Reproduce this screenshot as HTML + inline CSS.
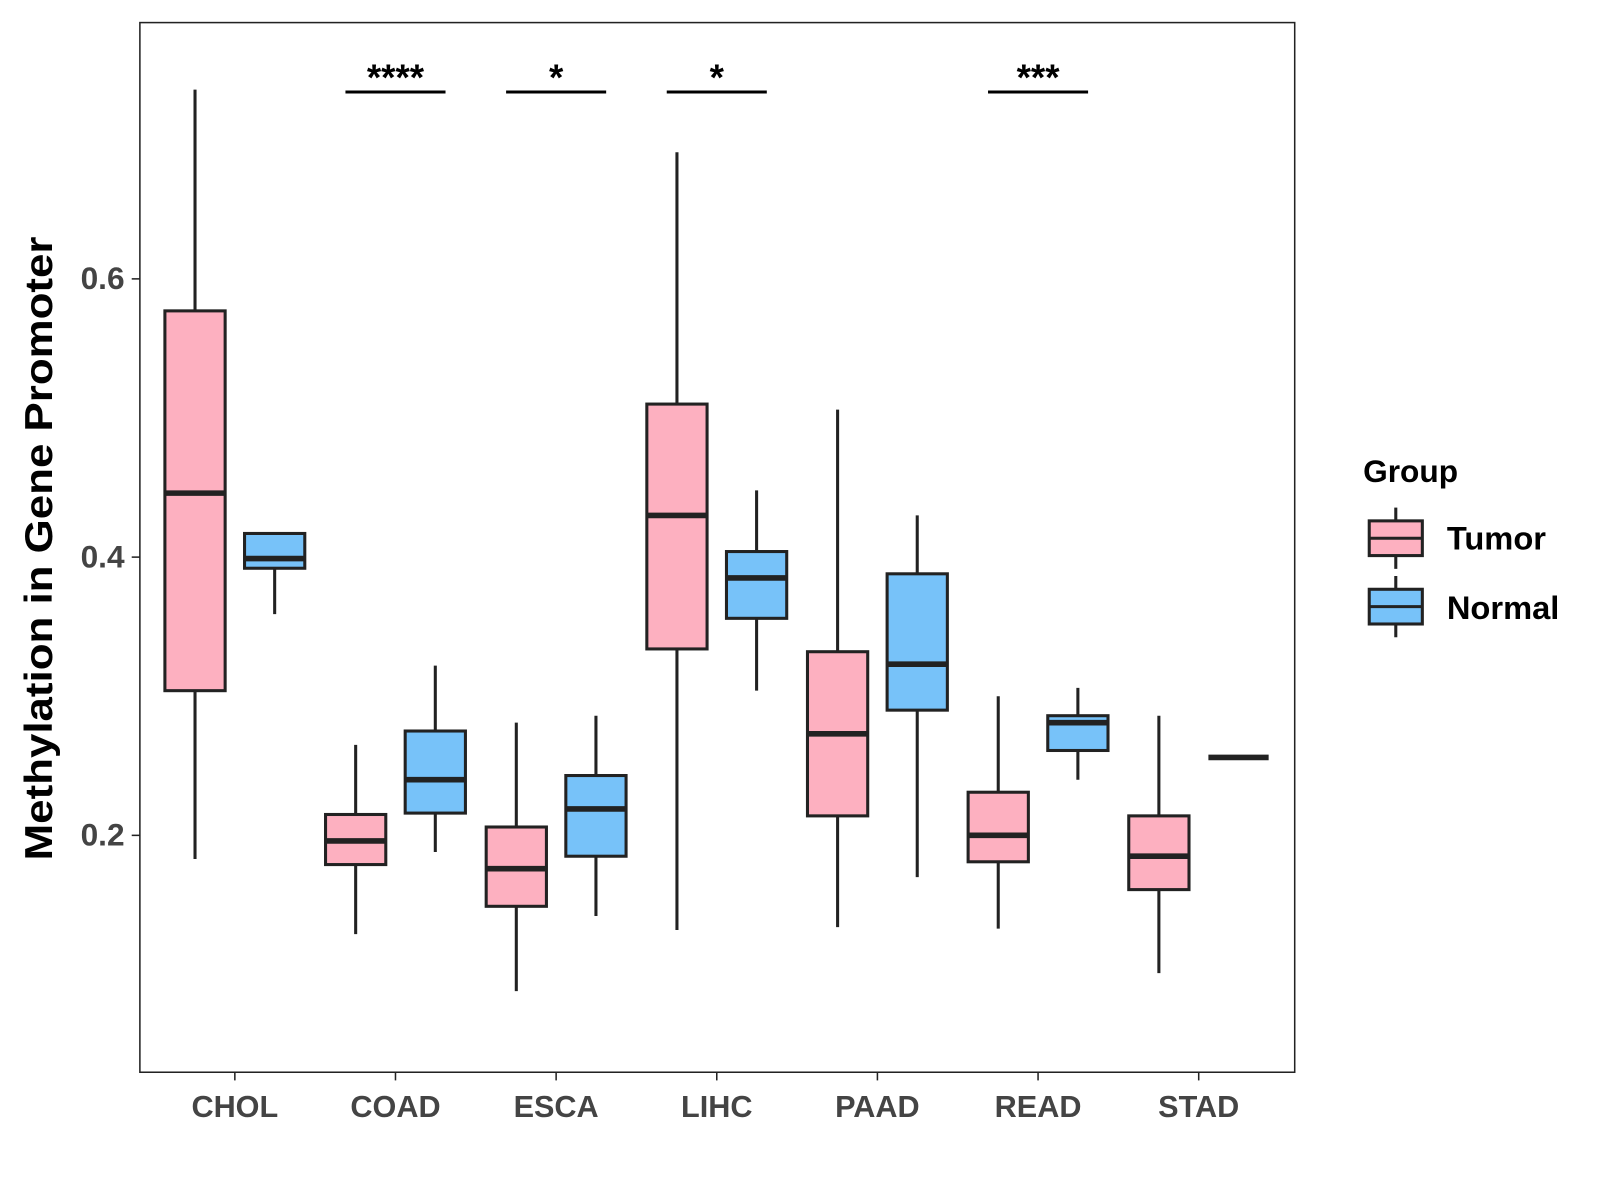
<!DOCTYPE html>
<html><head><meta charset="utf-8">
<style>
html,body{margin:0;padding:0;background:#fff;}
svg{display:block;font-family:"Liberation Sans",Arial,sans-serif;}
</style></head>
<body>
<svg id="chart" width="1600" height="1200" viewBox="0 0 1567 1175">
  <rect x="137" y="22" width="1131" height="1028" fill="#fff" stroke="#222" stroke-width="1.5"/>
  <g id="marks"></g>
  <g id="axes"></g>
  <text transform="translate(51,537) rotate(-90)" text-anchor="middle" font-size="38" font-weight="bold" fill="#000" textLength="611" lengthAdjust="spacingAndGlyphs">Methylation in Gene Promoter</text>
  <g>
    <text x="1335" y="472" font-size="31" font-weight="bold" fill="#000">Group</text>
    <g>
      <line x1="1367" y1="497" x2="1367" y2="557" stroke="#222" stroke-width="3"/>
      <rect x="1341" y="510" width="52" height="34" fill="#fdb0c0" stroke="#222" stroke-width="3"/>
      <line x1="1341" y1="527" x2="1393" y2="527" stroke="#222" stroke-width="3"/>
      <text x="1417" y="538" font-size="32" font-weight="bold" fill="#000">Tumor</text>
    </g>
    <g>
      <line x1="1367" y1="564" x2="1367" y2="624" stroke="#222" stroke-width="3"/>
      <rect x="1341" y="577" width="52" height="34" fill="#77c2f9" stroke="#222" stroke-width="3"/>
      <line x1="1341" y1="594" x2="1393" y2="594" stroke="#222" stroke-width="3"/>
      <text x="1417" y="606" font-size="32" font-weight="bold" fill="#000">Normal</text>
    </g>
  </g>
</svg>
<script>
const categories = ["CHOL","COAD","ESCA","LIHC","PAAD","READ","STAD"];
// [low, q1, median, q3, high]
const tumorStats = [
  [0.183,0.304,0.446,0.577,0.736],
  [0.129,0.179,0.196,0.215,0.265],
  [0.088,0.149,0.176,0.206,0.281],
  [0.132,0.334,0.430,0.510,0.691],
  [0.134,0.214,0.273,0.332,0.506],
  [0.133,0.181,0.200,0.231,0.300],
  [0.101,0.161,0.185,0.214,0.286]
];
const normalStats = [
  [0.359,0.392,0.399,0.417,0.417],
  [0.188,0.216,0.240,0.275,0.322],
  [0.142,0.185,0.219,0.243,0.286],
  [0.304,0.356,0.385,0.404,0.448],
  [0.170,0.290,0.323,0.388,0.430],
  [0.240,0.261,0.281,0.286,0.306],
  [0.256,0.256,0.256,0.256,0.256]
];
const yTicks = [0.2,0.4,0.6];
const yTickLabels = ["0.2","0.4","0.6"];
const sigCategories = ["COAD","ESCA","LIHC","READ"];
const sigLabels = ["****","*","*","***"];

const NS="http://www.w3.org/2000/svg";
function y(v){ return 273 + (0.6 - v) * 1362.5; }
function x(i){ return 230 + i * 157.33; }
function mk(tag, attrs, parent){
  const e=document.createElementNS(NS,tag);
  for(const k in attrs) e.setAttribute(k,attrs[k]);
  parent.appendChild(e); return e;
}
const marks=document.getElementById('marks');
const axes=document.getElementById('axes');
const bw=59;
function drawBox(cx, s, fill, name){
  const g=mk('g',{},marks);
  
  
  mk('line',{x1:cx,x2:cx,y1:y(s[4]),y2:y(s[0]),stroke:'#222','stroke-width':3},g);
  mk('rect',{x:cx-bw/2,y:y(s[3]),width:bw,height:Math.max(0,y(s[1])-y(s[3])),fill:fill,stroke:'#222','stroke-width':3},g);
  mk('line',{x1:cx-bw/2,x2:cx+bw/2,y1:y(s[2]),y2:y(s[2]),stroke:'#222','stroke-width':5.5},g);
}
categories.forEach((c,i)=>{
  drawBox(x(i)-39, tumorStats[i], '#fdb0c0', 'box-tumor-'+c.toLowerCase());
  drawBox(x(i)+39, normalStats[i], '#77c2f9', 'box-normal-'+c.toLowerCase());
  mk('line',{x1:x(i),x2:x(i),y1:1050,y2:1058,stroke:'#222','stroke-width':1.5},axes);
  const t=mk('text',{x:x(i),y:1094,'text-anchor':'middle','font-size':30,'font-weight':'bold',fill:'#444'},axes);
  t.textContent=c;
  
  
});
yTicks.forEach((v,i)=>{
  mk('line',{x1:129,x2:137,y1:y(v),y2:y(v),stroke:'#222','stroke-width':1.5},axes);
  const t=mk('text',{x:122,y:y(v)+10,'text-anchor':'end','font-size':31,'font-weight':'bold',fill:'#444'},axes);
  t.textContent=yTickLabels[i];
  
  
});
sigCategories.forEach((c,k)=>{
  const i=categories.indexOf(c);
  const g=mk('g',{},marks);
  
  
  mk('line',{x1:x(i)-49,x2:x(i)+49,y1:90,y2:90,stroke:'#000','stroke-width':3},g);
  const t=mk('text',{x:x(i),y:88,'text-anchor':'middle','font-size':36,'font-weight':'bold',fill:'#000'},g);
  t.textContent=sigLabels[k];
});
</script>
</body></html>
